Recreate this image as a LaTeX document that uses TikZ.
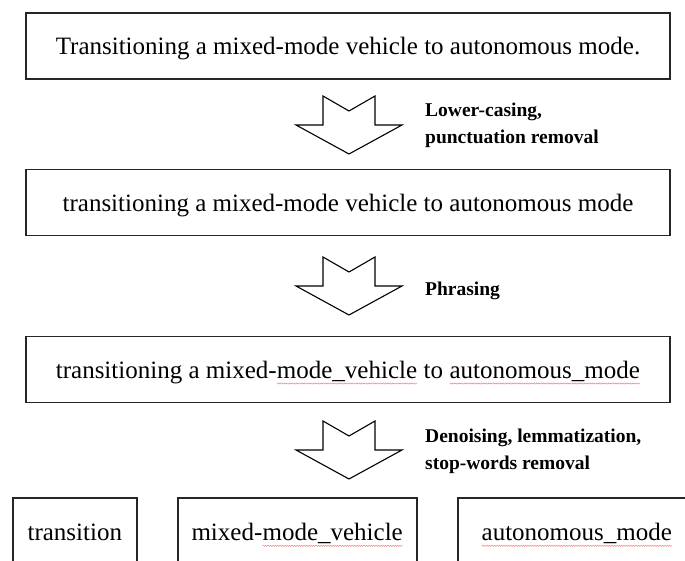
\documentclass[tikz,border=0pt]{standalone}
\usepackage{fontspec}
\setmainfont{Liberation Serif}
\usetikzlibrary{decorations.pathmorphing}
\tikzset{
  wavy/.style={draw=red!50, line width=0.5pt, decorate, decoration={snake, amplitude=0.6pt, segment length=2.4pt}},
  wvplain/.style={draw=none, fill=none, anchor=center, inner sep=0pt, outer sep=0pt, minimum width=0pt, minimum height=0pt, text height=, text depth=}
}
\newcommand\wv[1]{\tikz[baseline=(wvn.base)]{\node[wvplain](wvn){#1};\draw[wavy] ([yshift=-5pt]wvn.base west) -- ([yshift=-5pt]wvn.base east);}}
\begin{document}
\begin{tikzpicture}[x=1pt,y=-1pt,
  mainbox/.style={draw=black!85, line width=1.6pt, minimum width=644pt, minimum height=66pt, inner sep=0pt, text height=20pt, text depth=2pt, font=\fontsize{25}{30}\selectfont},
  wordbox/.style={draw=black!85, line width=1.6pt, anchor=north west, inner xsep=0pt, inner ysep=23pt, text height=20pt, text depth=60pt, font=\fontsize{25}{30}\selectfont},
  steplabel/.style={anchor=base west, inner sep=0pt, font=\fontsize{19.5}{27}\selectfont\bfseries},
  bigarrow/.pic={\draw[line width=1.1pt, line join=miter, fill=white] (-26,0) -- (0,15) -- (26,0) -- (26,29) -- (53,29) -- (0,58) -- (-53,29) -- (-26,29) -- cycle;}
]
\useasboundingbox (0,0) rectangle (685,561);
\fill[white] (0,0) rectangle (685,561);

\node[mainbox] (s1) at (348,46) {Transitioning a mixed-mode vehicle to autonomous mode.};
\node[mainbox] (s2) at (348,202.5) {transitioning a mixed-mode vehicle to autonomous mode};
\node[mainbox] (s3) at (348,369.5) {transitioning a mixed-\wv{mode\_vehicle} to \wv{autonomous\_mode}};

\pic at (349,96) {bigarrow};
\pic at (349,257) {bigarrow};
\pic at (349,421) {bigarrow};

\node[steplabel] (l1) at (425,117) {\begin{tabular}[t]{@{}l@{}}Lower-casing,\\punctuation removal\end{tabular}};
\node[steplabel] (l2) at (425,295) {Phrasing};
\node[steplabel] (l3) at (425,442) {\begin{tabular}[t]{@{}l@{}}Denoising, lemmatization,\\stop-words removal\end{tabular}};

\begin{scope}
\clip (0,0) rectangle (685,561);
\node[wordbox, minimum width=124pt] (w1) at (12,497) {transition};
\node[wordbox, minimum width=239pt] (w2) at (177,497) {mixed-\wv{mode\_vehicle}};
\node[wordbox, minimum width=238pt] (w3) at (457,497) {\wv{autonomous\_mode}};
\end{scope}
\end{tikzpicture}
\end{document}
